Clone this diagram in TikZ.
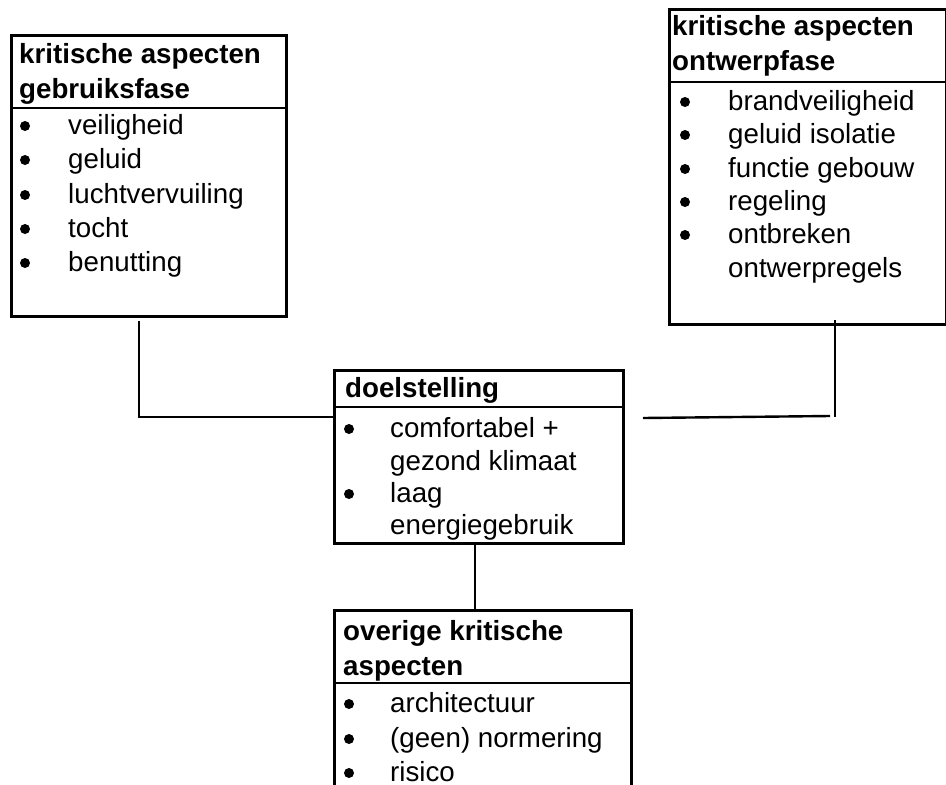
\documentclass[tikz,border=0pt]{standalone}
\usepackage{fontspec}
\setmainfont{Liberation Sans}
\begin{document}
\begin{tikzpicture}[x=1pt,y=-1pt,
  box/.style={draw, rectangle, line width=2.8pt, inner sep=0pt, anchor=north west},
  divl/.style={line width=2.6pt},
  conn/.style={line width=2.4pt},
  hd/.style={anchor=base west, inner sep=0pt, font=\bfseries\fontsize{27.7}{34}\selectfont},
  tx/.style={anchor=base west, inner sep=0pt, font=\fontsize{27.7}{34}\selectfont},
  bl/.style={circle, fill, inner sep=0pt, minimum size=10pt}]
\useasboundingbox (0,0) rectangle (946,785);
\clip (0,0) rectangle (946,785);
\fill[white] (0,0) rectangle (946,785);

% boxes
\node[box, minimum width=275pt, minimum height=281pt] (b1) at (10,34) {};
\node[box, minimum width=277pt, minimum height=315pt] (b2) at (668,8) {};
\node[box, minimum width=289pt, minimum height=173pt] (b3) at (333,369) {};
\node[box, minimum width=297pt, minimum height=200pt] (b4) at (333,609) {};

% header dividers
\draw[divl] ([yshift=-74pt]b1.north west) -- ([yshift=-74pt]b1.north east);
\draw[divl] ([yshift=-74pt]b2.north west) -- ([yshift=-74pt]b2.north east);
\draw[divl] ([yshift=-38pt]b3.north west) -- ([yshift=-38pt]b3.north east);
\draw[divl] ([yshift=-74pt]b4.north west) -- ([yshift=-74pt]b4.north east);

% box 1
\node[hd] (h1a) at (19,63) {kritische aspecten};
\node[hd] (h1b) at (19,98) {gebruiksfase};
\node[bl] (p1a) at (25,126) {}; \node[tx] (t1a) at (68,134) {veiligheid};
\node[bl] (p1b) at (25,160) {}; \node[tx] (t1b) at (68,168) {geluid};
\node[bl] (p1c) at (25,195) {}; \node[tx] (t1c) at (68,203) {luchtvervuiling};
\node[bl] (p1d) at (25,229) {}; \node[tx] (t1d) at (68,237) {tocht};
\node[bl] (p1e) at (25,263) {}; \node[tx] (t1e) at (68,271) {benutting};

% box 2
\node[hd] (h2a) at (672,35) {kritische aspecten};
\node[hd] (h2b) at (672,70) {ontwerpfase};
\node[bl] (p2a) at (685,102) {}; \node[tx] (t2a) at (728,110) {brandveiligheid};
\node[bl] (p2b) at (685,135) {}; \node[tx] (t2b) at (728,143) {geluid isolatie};
\node[bl] (p2c) at (685,169) {}; \node[tx] (t2c) at (728,177) {functie gebouw};
\node[bl] (p2d) at (685,202) {}; \node[tx] (t2d) at (728,210) {regeling};
\node[bl] (p2e) at (685,235) {}; \node[tx] (t2e) at (728,243) {ontbreken};
\node[tx] (t2f) at (728,277) {ontwerpregels};

% box 3
\node[hd] (h3a) at (345,397) {doelstelling};
\node[bl] (p3a) at (349,429) {}; \node[tx] (t3a) at (390,437) {comfortabel +};
\node[tx] (t3b) at (390,470) {gezond klimaat};
\node[bl] (p3c) at (349,494) {}; \node[tx] (t3c) at (390,502) {laag};
\node[tx] (t3d) at (390,534) {energiegebruik};

% box 4
\node[hd] (h4a) at (343,640) {overige kritische};
\node[hd] (h4b) at (343,675) {aspecten};
\node[bl] (p4a) at (349,704) {}; \node[tx] (t4a) at (390,712) {architectuur};
\node[bl] (p4b) at (349,739) {}; \node[tx] (t4b) at (390,747) {(geen) normering};
\node[bl] (p4c) at (349,773) {}; \node[tx] (t4c) at (390,781) {risico};

% connectors
\coordinate (c1) at (139,321);
\coordinate (c1b) at (139,417);
\draw[conn] (c1) -- (c1b) -- (b3.west |- c1b);

\coordinate (c2a) at (643,418);
\coordinate (c2b) at (830,416);
\draw[conn] (c2a) -- (c2b);
\coordinate (c2c) at (835,320);
\coordinate (c2d) at (835,417);
\draw[conn] (c2c) -- (c2d);

\coordinate (c3) at (475,0);
\draw[conn] (b3.south -| c3) -- (b4.north -| c3);
\end{tikzpicture}
\end{document}
